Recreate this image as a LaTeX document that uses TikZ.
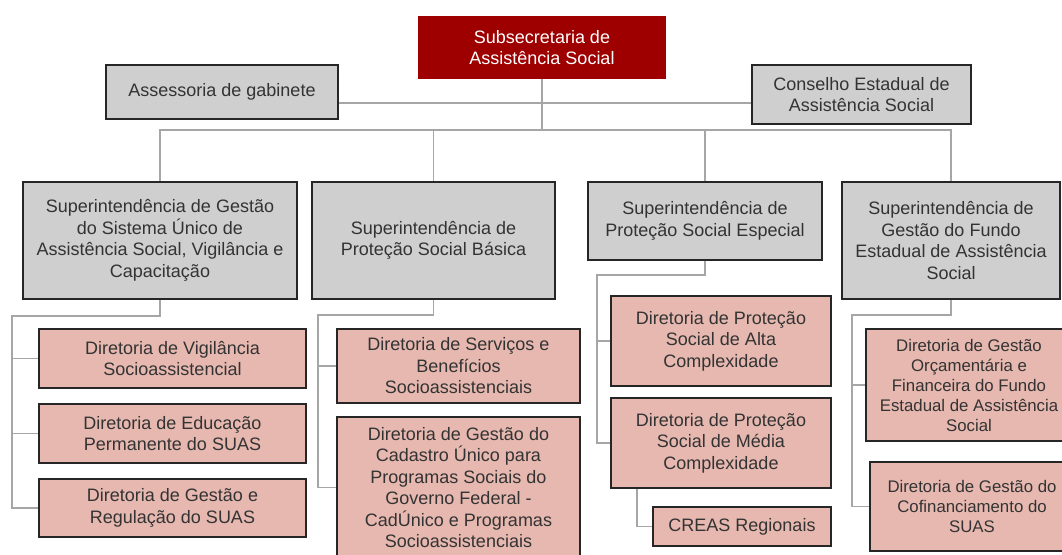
\documentclass[tikz,border=0pt]{standalone}
\usepackage{fontspec}
\setmainfont{Liberation Sans}
\definecolor{subred}{HTML}{9E0000}
\definecolor{boxgray}{HTML}{CFCFCF}
\definecolor{dirpink}{HTML}{E6B8B0}
\definecolor{boxline}{HTML}{262626}
\definecolor{linkgray}{HTML}{A6A6A6}
\definecolor{textdark}{HTML}{333333}

\begin{document}
\begin{tikzpicture}[x=1pt, y=-1pt,
    orgbox/.style={rectangle, draw=boxline, line width=1.8pt, align=center, inner sep=0pt,
        text=textdark, font=\fontsize{18}{21.5}\selectfont},
    subbox/.style={orgbox, fill=subred, draw=subred, text=white},
    supbox/.style={orgbox, fill=boxgray},
    dirbox/.style={orgbox, fill=dirpink},
    smalltext/.style={font=\fontsize{16.8}{20}\selectfont},
    link/.style={draw=linkgray, line width=1.6pt}]
                \useasboundingbox (0,0) rectangle (1062,554);
                \clip (0,0) rectangle (1062,554);

                % Top level
                \node[subbox, minimum width=246pt, minimum height=61pt] (subsec) at (542,47.5)
                    {Subsecretaria de\\Assistência Social};
                \node[supbox, minimum width=232pt, minimum height=54pt] (assess) at (222,92)
                    {Assessoria de gabinete};
                \node[supbox, minimum width=219pt, minimum height=59pt] (conselho) at (861.5,94.5)
                    {Conselho Estadual de\\Assistência Social};
                \coordinate (bus) at (542,130);

                \draw[link] ([yshift=-11pt]assess.east) -- ([yshift=-11pt]assess.east -| conselho.west);
                \draw[link] (subsec.south) -- (bus);

                % Superintendencias
                \node[supbox, minimum width=274pt, minimum height=117pt] (sgsuas) at (160,240.5)
                    {Superintendência de Gestão\\do Sistema Único de\\Assistência Social, Vigilância e\\Capacitação};
                \node[supbox, minimum width=243pt, minimum height=117pt] (psb) at (433.5,240.5)
                    {Superintendência de\\Proteção Social Básica};
                \node[supbox, minimum width=234pt, minimum height=78pt] (pse) at (705,221)
                    {Superintendência de\\Proteção Social Especial};
                \node[supbox, minimum width=218pt, minimum height=117pt] (fundo) at (951,240.5)
                    {Superintendência de\\Gestão do Fundo\\Estadual de Assistência\\Social};

                \draw[link] (sgsuas.north) |- (bus) -| (fundo.north);
                \draw[link] (psb.north) -- (psb.north |- bus);
                \draw[link] (pse.north) -- (pse.north |- bus);

                % Diretorias de gestao do SUAS
                \node[dirbox, minimum width=267pt, minimum height=59pt] (dvig) at (172.5,358.5)
                    {Diretoria de Vigilância\\Socioassistencial};
                \node[dirbox, minimum width=267pt, minimum height=59pt] (dedu) at (172.5,433.5)
                    {Diretoria de Educação\\Permanente do SUAS};
                \node[dirbox, minimum width=267pt, minimum height=58pt] (dreg) at (172.5,508)
                    {Diretoria de Gestão e\\Regulação do SUAS};
                \coordinate (sgspine) at (12,316);

                \draw[link] (sgsuas.south) |- (sgspine) |- (dreg.west);
                \draw[link] (sgspine |- dvig.west) -- (dvig.west);
                \draw[link] (sgspine |- dedu.west) -- (dedu.west);

                % Diretorias de protecao basica
                \node[dirbox, minimum width=243pt, minimum height=74pt] (dserv) at (458.5,366)
                    {Diretoria de Serviços e\\Benefícios\\Socioassistenciais};
                \node[dirbox, minimum width=243pt, minimum height=141pt] (dcad) at (458.5,487.5)
                    {Diretoria de Gestão do\\Cadastro Único para\\Programas Sociais do\\Governo Federal -\\CadÚnico e Programas\\Socioassistenciais};
                \coordinate (psbspine) at (318,315);

                \draw[link] (psb.south) |- (psbspine) |- (dcad.west);
                \draw[link] (psbspine |- dserv.west) -- (dserv.west);

                % Diretorias de protecao especial
                \node[dirbox, minimum width=220pt, minimum height=90pt] (dalta) at (721,341)
                    {Diretoria de Proteção\\Social de Alta\\Complexidade};
                \node[dirbox, minimum width=220pt, minimum height=90pt] (dmedia) at (721,443)
                    {Diretoria de Proteção\\Social de Média\\Complexidade};
                \node[dirbox, minimum width=178pt, minimum height=39pt] (creas) at (742,526.5)
                    {CREAS Regionais};
                \coordinate (psespine) at (597,275);

                \draw[link] (pse.south) |- (psespine) |- (dmedia.west);
                \draw[link] (psespine |- dalta.west) -- (dalta.west);
                \draw[link] ([xshift=-84pt]dmedia.south) |- (creas.west);

                % Diretorias do fundo
                \node[dirbox, smalltext, minimum width=206pt, minimum height=112pt] (dorc) at (969,385)
                    {Diretoria de Gestão\\Orçamentária e\\Financeira do Fundo\\Estadual de Assistência\\Social};
                \node[dirbox, smalltext, minimum width=204pt, minimum height=89pt] (dcof) at (972,506.5)
                    {Diretoria de Gestão do\\Cofinanciamento do\\SUAS};
                \coordinate (fundospine) at (852,315);

                \draw[link] (fundo.south) |- (fundospine) |- (dcof.west);
                \draw[link] (fundospine |- dorc.west) -- (dorc.west);
            \end{tikzpicture}
\end{document}
